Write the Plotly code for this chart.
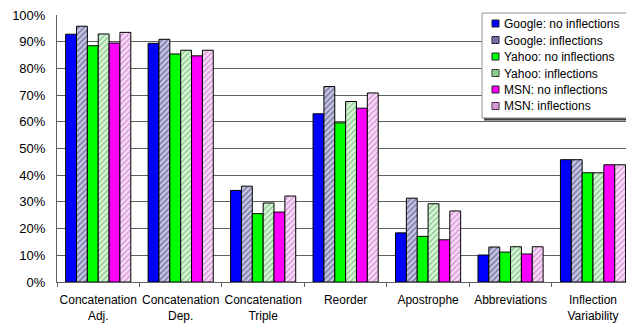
import plotly.graph_objects as go

categories = [
    "Concatenation<br>Adj.",
    "Concatenation<br>Dep.",
    "Concatenation<br>Triple",
    "Reorder",
    "Apostrophe",
    "Abbreviations",
    "Inflection<br>Variability",
]

google_no_infl = [92.8, 89.4, 34.3, 63.0, 18.4, 10.1, 45.8]
google_infl = [95.8, 90.9, 35.9, 73.2, 31.4, 13.1, 45.8]
yahoo_no_infl = [88.5, 85.4, 25.6, 59.6, 17.1, 11.2, 40.9]
yahoo_infl = [92.9, 86.8, 29.6, 67.6, 29.3, 13.2, 40.9]
msn_no_infl = [89.5, 84.7, 26.2, 65.1, 15.8, 10.5, 43.9]
msn_infl = [93.5, 86.8, 32.2, 70.8, 26.6, 13.2, 43.9]

series_names = [
    "Google: no inflections",
    "Google: inflections",
    "Yahoo: no inflections",
    "Yahoo: inflections",
    "MSN: no inflections",
    "MSN: inflections",
]
series_values = [google_no_infl, google_infl, yahoo_no_infl,
                 yahoo_infl, msn_no_infl, msn_infl]

FONT = "Arial, Liberation Sans, sans-serif"
W, H = 626, 324
M_L, M_R, M_T, M_B = 57, 0, 15, 42

# fill colour and hatch colour (None = solid) per series
styles = [
    ("#0000FF", None),
    ("#CACAE3", "#2E2E75"),
    ("#00FF00", None),
    ("#DDF7DD", "#4FA84F"),
    ("#FF00FF", None),
    ("#FADDFA", "#B865B8"),
]

fig = go.Figure()
for name, vals, (color, hatch) in zip(series_names, series_values, styles):
    marker = dict(color=color, line=dict(color="#000000", width=1))
    if hatch:
        marker["pattern"] = dict(shape="/", fgcolor=hatch, bgcolor=color,
                                 size=4, solidity=0.45)
    fig.add_trace(go.Bar(name=name, x=categories, y=vals, marker=marker,
                         showlegend=False))

# ---- legend box drawn in pixel space, converted to paper coordinates ----
plot_w = W - M_L - M_R
plot_h = H - M_T - M_B


def px_x(px):
    return (px - M_L) / plot_w


def px_y(py):
    return (H - M_B - py) / plot_h


shapes = []
box_l, box_t, box_r, box_b = 482, 13, 640, 118
# drop shadow
shapes.append(dict(type="rect", xref="paper", yref="paper",
                   x0=px_x(box_l + 2), x1=px_x(box_r + 2),
                   y0=px_y(box_t + 2), y1=px_y(box_b + 2.5),
                   fillcolor="#404040", line=dict(width=0), layer="above"))
shapes.append(dict(type="rect", xref="paper", yref="paper",
                   x0=px_x(box_l), x1=px_x(box_r),
                   y0=px_y(box_t), y1=px_y(box_b),
                   fillcolor="white", line=dict(color="#909090", width=1),
                   layer="above"))

annotations = []
row0, row_step = 23.5, 16.5
sw_l, sw_size = 492, 7
for i, (name, (color, hatch)) in enumerate(zip(series_names, styles)):
    cy = row0 + row_step * i
    x0, x1 = sw_l, sw_l + sw_size
    y0, y1 = cy - sw_size / 2, cy + sw_size / 2
    shapes.append(dict(type="rect", xref="paper", yref="paper",
                       x0=px_x(x0), x1=px_x(x1), y0=px_y(y0), y1=px_y(y1),
                       fillcolor=color,
                       line=dict(color="#202020", width=1), layer="above"))
    if hatch:
        # diagonal hatch strokes inside the swatch
        path = ""
        for k in range(1, 4):
            d = sw_size * k / 4
            path += (f"M{px_x(x0 + d)},{px_y(y1)} "
                     f"L{px_x(x1)},{px_y(y0 + d)} ")
            path += (f"M{px_x(x0)},{px_y(y1 - d)} "
                     f"L{px_x(x1 - d)},{px_y(y0)} ")
        path += f"M{px_x(x0)},{px_y(y1)} L{px_x(x1)},{px_y(y0)}"
        shapes.append(dict(type="path", xref="paper", yref="paper",
                           path=path, line=dict(color=hatch, width=1),
                           layer="above"))
    annotations.append(dict(xref="paper", yref="paper",
                            x=px_x(501.5), y=px_y(cy + 0.5),
                            xanchor="left", yanchor="middle",
                            text=name, showarrow=False,
                            font=dict(family=FONT, size=12, color="#000000")))

fig.update_layout(
    width=W,
    height=H,
    barmode="group",
    bargap=0.21,
    bargroupgap=0,
    plot_bgcolor="white",
    paper_bgcolor="white",
    margin=dict(l=M_L, r=M_R, t=M_T, b=M_B),
    font=dict(family=FONT, size=12, color="#000000"),
    showlegend=False,
    shapes=shapes,
    annotations=annotations,
)

fig.update_xaxes(
    type="category",
    range=[-0.5, 6.4],
    showline=True,
    linecolor="#606060",
    ticks="outside",
    tickson="boundaries",
    ticklen=4,
    tickcolor="#606060",
    tickangle=0,
    ticklabelstandoff=7,
    showgrid=False,
    tickfont=dict(family=FONT, size=12, color="#000000"),
)

fig.update_yaxes(
    range=[0, 100],
    dtick=10,
    ticksuffix="%",
    showline=True,
    linecolor="#606060",
    showgrid=True,
    gridcolor="#606060",
    gridwidth=1,
    ticks="outside",
    ticklen=8,
    tickcolor="rgba(0,0,0,0)",
    zeroline=False,
    tickfont=dict(family=FONT, size=13, color="#000000"),
)

fig.write_html("out.html")
